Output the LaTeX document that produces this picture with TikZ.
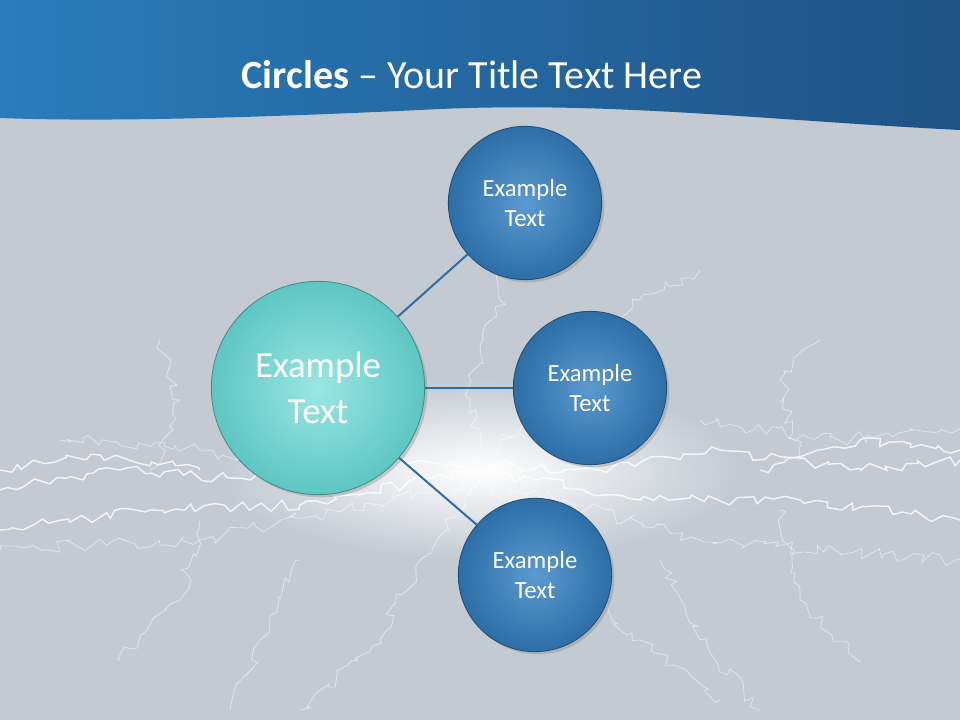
\documentclass[tikz,border=0pt]{standalone}
\usepackage{fontspec}
\setmainfont{Carlito}
\usetikzlibrary{decorations.pathmorphing,shadows}
\definecolor{bg}{HTML}{C3CAD2}
\definecolor{bandA}{HTML}{2A7CBB}
\definecolor{bandB}{HTML}{1F5284}
\definecolor{smallc}{HTML}{2D6EA6}
\definecolor{smallhi}{HTML}{5A9AD0}
\definecolor{bigc}{HTML}{5EC6C2}
\definecolor{bighi}{HTML}{9BE6E2}
\definecolor{conn}{HTML}{2E6DA6}
\tikzset{
  smallcirc/.style={circle,minimum size=115pt,draw=smallc!70!black,line width=0.6pt,
    inner color=smallhi,outer color=smallc,text=white,font=\fontsize{18.5}{22.5}\selectfont,
    align=center,drop shadow={opacity=0.35,shadow xshift=2pt,shadow yshift=-2pt}},
  bigcirc/.style={circle,minimum size=160pt,draw=bigc!70!black,line width=0.6pt,
    inner color=bighi,outer color=bigc,text=white,font=\fontsize{27.5}{34}\selectfont,
    align=center,drop shadow={opacity=0.35,shadow xshift=2pt,shadow yshift=-2pt}},
  connline/.style={draw=conn,line width=1.5pt},
  bolt/.style={white,opacity=0.8,line width=1.1pt,decorate,
    decoration={random steps,segment length=6pt,amplitude=4pt}},
  boltfaint/.style={white,opacity=0.5,line width=0.6pt,decorate,
    decoration={random steps,segment length=5pt,amplitude=5pt}}
}
\begin{document}
\begin{tikzpicture}[x=0.75pt,y=-0.75pt]
\fill[bg] (0,0) rectangle (960,720);
\useasboundingbox (0,0) rectangle (960,720);
% lightning glow
\shade[inner color=white,outer color=bg] (480,470) ellipse (260 and 90);
\pgfmathsetseed{7}
\draw[bolt] (0,490) -- (120,470) -- (250,480) -- (400,460) -- (480,465);
\draw[bolt] (480,465) -- (600,470) -- (720,450) -- (850,470) -- (960,460);
\draw[bolt] (0,530) -- (150,510) -- (300,505) -- (480,470);
\draw[bolt] (480,470) -- (640,500) -- (800,500) -- (960,520);
\draw[bolt] (0,470) -- (100,455) -- (200,470);
\draw[bolt] (760,470) -- (860,440) -- (960,450);
\draw[boltfaint] (0,550) -- (200,540) -- (480,480) -- (700,540) -- (960,560);
\draw[boltfaint] (60,440) -- (200,450) -- (330,470);
\draw[boltfaint] (700,420) -- (830,440) -- (960,430);
\draw[boltfaint] (480,460) -- (470,380) -- (500,300) -- (490,250);
\draw[boltfaint] (480,470) -- (560,380) -- (640,300) -- (700,270);
\draw[boltfaint] (480,480) -- (420,560) -- (380,640) -- (300,710);
\draw[boltfaint] (480,480) -- (560,570) -- (640,640) -- (720,700);
\draw[boltfaint] (200,520) -- (180,600) -- (120,660);
\draw[boltfaint] (780,510) -- (800,600) -- (860,660);
\draw[boltfaint] (150,470) -- (180,400) -- (160,340);
\draw[boltfaint] (800,460) -- (780,380) -- (820,340);
\draw[boltfaint] (300,560) -- (260,640) -- (230,710);
\draw[boltfaint] (660,560) -- (700,640) -- (760,710);
% title band
\shade[left color=bandA,right color=bandB]
  (0,0) -- (960,0) -- (960,130) .. controls (760,120) and (600,100) .. (420,110)
  .. controls (250,118) and (100,122) .. (0,118) -- cycle;
\node[text=white,font=\fontsize{30}{36}\selectfont] (title) at (472,75)
  {\textbf{Circles} – Your Title Text Here};
% circles
\node[bigcirc] (c0) at (318,388) {Example\\Text};
\node[smallcirc] (c1) at (525,203) {Example\\Text};
\node[smallcirc] (c2) at (590,388) {Example\\Text};
\node[smallcirc] (c3) at (535,575) {Example\\Text};
\draw[connline] (c0) -- (c1);
\draw[connline] (c0) -- (c2);
\draw[connline] (c0) -- (c3);
\end{tikzpicture}
\end{document}
